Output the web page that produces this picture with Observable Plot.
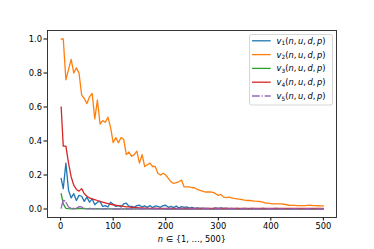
<!DOCTYPE html>
<html>
<head>
<meta charset="utf-8">
<script src="https://cdn.jsdelivr.net/npm/d3@7"></script>
<script src="https://cdn.jsdelivr.net/npm/@observablehq/plot@0.6"></script>
<style>
  html, body { margin: 0; padding: 0; background: #fff; }
  #chart { width: 374px; height: 249px; }
</style>
</head>
<body>
<div id="chart"></div>
<script>
// x positions (n) shared by all series
const nValues = [1, 5, 10, 15, 20, 25, 30, 35, 40, 45, 50, 55, 60, 65, 70, 75, 80, 85, 90, 95,
  100, 105, 110, 115, 120, 125, 130, 135, 140, 145, 150, 155, 160, 165, 170, 175, 180, 185, 190, 195,
  200, 205, 210, 215, 220, 225, 230, 235, 240, 245, 250, 255, 260, 265, 270, 275, 280, 285, 290, 295,
  300, 305, 310, 315, 320, 325, 330, 335, 340, 345, 350, 355, 360, 365, 370, 375, 380, 385, 390, 395,
  400, 405, 410, 415, 420, 425, 430, 435, 440, 445, 450, 455, 460, 465, 470, 475, 480, 485, 490, 495, 500];

const v1 = [0.18, 0.12, 0.27, 0.11, 0.065, 0.09, 0.05, 0.08, 0.075, 0.045, 0.07, 0.04, 0.06, 0.025, 0.04, 0.045, 0.015, 0.02, 0.012, 0.04,
  0.028, 0.015, 0.02, 0.012, 0.03, 0.035, 0.015, 0.016, 0.01, 0.02, 0.022, 0.012, 0.018, 0.01, 0.02, 0.008, 0.018, 0.016, 0.01, 0.02,
  0.022, 0.01, 0.015, 0.008, 0.018, 0.006, 0.014, 0.01, 0.012, 0.005, 0.01, 0.004, 0.006, 0.003, 0.005, 0.003, 0.004, 0.002, 0.003, 0.006,
  0.004, 0.007, 0.003, 0.005, 0.002, 0.003, 0.002, 0.003, 0.002, 0.002, 0.003, 0.002, 0.002, 0.003, 0.002, 0.002, 0.002, 0.003, 0.002, 0.002,
  0.002, 0.002, 0.003, 0.002, 0.002, 0.002, 0.002, 0.002, 0.002, 0.002, 0.002, 0.002, 0.002, 0.002, 0.002, 0.002, 0.002, 0.002, 0.002, 0.002, 0.002];

const v2 = [1.00, 1.00, 0.76, 0.82, 0.88, 0.80, 0.83, 0.80, 0.67, 0.65, 0.62, 0.66, 0.68, 0.53, 0.64, 0.50, 0.52, 0.51, 0.54, 0.48,
  0.39, 0.42, 0.39, 0.42, 0.41, 0.32, 0.335, 0.31, 0.32, 0.34, 0.27, 0.32, 0.25, 0.26, 0.27, 0.25, 0.25, 0.21, 0.20, 0.21,
  0.20, 0.18, 0.16, 0.15, 0.155, 0.16, 0.17, 0.13, 0.13, 0.13, 0.125, 0.125, 0.115, 0.11, 0.105, 0.10, 0.10, 0.10, 0.098, 0.09,
  0.08, 0.086, 0.07, 0.067, 0.07, 0.065, 0.062, 0.06, 0.058, 0.055, 0.052, 0.05, 0.05, 0.048, 0.046, 0.045, 0.044, 0.04, 0.035, 0.034,
  0.032, 0.03, 0.03, 0.03, 0.03, 0.028, 0.025, 0.022, 0.021, 0.021, 0.02, 0.02, 0.02, 0.02, 0.021, 0.022, 0.02, 0.02, 0.019, 0.018, 0.018];

const v3 = [0.09, 0.03, 0.004, 0.002, 0.001, 0.003, 0.001, 0.004, 0.002, 0.003, 0.001, 0.003, 0.002, 0.001, 0.002, 0.001, 0.001, 0.002, 0.001, 0.001,
  0.001, 0.001, 0.001, 0.001, 0.001, 0.001, 0.001, 0.001, 0.001, 0.001, 0.001, 0.001, 0.001, 0.001, 0.001, 0.001, 0.001, 0.001, 0.001, 0.001,
  0, 0, 0, 0, 0, 0, 0, 0, 0, 0, 0, 0, 0, 0, 0, 0, 0, 0, 0, 0,
  0, 0, 0, 0, 0, 0, 0, 0, 0, 0, 0, 0, 0, 0, 0, 0, 0, 0, 0, 0,
  0, 0, 0, 0, 0, 0, 0, 0, 0, 0, 0, 0, 0, 0, 0, 0, 0, 0, 0, 0, 0];

const v4 = [0.60, 0.37, 0.37, 0.27, 0.19, 0.14, 0.115, 0.105, 0.12, 0.09, 0.075, 0.065, 0.06, 0.055, 0.05, 0.045, 0.04, 0.036, 0.032, 0.028,
  0.025, 0.022, 0.02, 0.018, 0.015, 0.013, 0.012, 0.01, 0.009, 0.008, 0.007, 0.006, 0.005, 0.005, 0.004, 0.004, 0.005, 0.003, 0.004, 0.003,
  0.004, 0.003, 0.004, 0.003, 0.003, 0.004, 0.003, 0.003, 0.004, 0.003, 0.003, 0.003, 0.004, 0.003, 0.003, 0.003, 0.004, 0.003, 0.003, 0.003,
  0.003, 0.003, 0.004, 0.003, 0.003, 0.003, 0.003, 0.004, 0.003, 0.003, 0.003, 0.003, 0.003, 0.004, 0.003, 0.003, 0.003, 0.003, 0.004, 0.003,
  0.003, 0.003, 0.003, 0.003, 0.004, 0.003, 0.003, 0.003, 0.003, 0.003, 0.004, 0.003, 0.003, 0.003, 0.003, 0.003, 0.004, 0.003, 0.003, 0.003, 0.003];

const v5 = [0.005, 0.055, 0.04, 0.012, 0.004, 0.002, 0.004, 0.014, 0.012, 0.002, 0.001, 0.001, 0.001, 0.001, 0.001, 0.001, 0.001, 0.001, 0.001, 0.001,
  0, 0, 0, 0, 0, 0, 0, 0, 0, 0, 0, 0, 0, 0, 0, 0, 0, 0, 0, 0,
  0, 0, 0, 0, 0, 0, 0, 0, 0, 0, 0, 0, 0, 0, 0, 0, 0, 0, 0, 0,
  0, 0, 0, 0, 0, 0, 0, 0, 0, 0, 0, 0, 0, 0, 0, 0, 0, 0, 0, 0,
  0, 0, 0, 0, 0, 0, 0, 0, 0, 0, 0, 0, 0, 0, 0, 0, 0, 0, 0, 0, 0];

const seriesNames = ["v1", "v2", "v3", "v4", "v5"];
const seriesSubs = ["1", "2", "3", "4", "5"];
const seriesColors = ["#1f77b4", "#ff7f0e", "#2ca02c", "#d62728", "#9467bd"];
const xTicks = [0, 100, 200, 300, 400, 500];
const yTicks = [0.0, 0.2, 0.4, 0.6, 0.8, 1.0];

const seriesValues = [v1, v2, v3, v4, v5];
const rowsFor = (k) => nValues.map((n, i) => ({n, v: seriesValues[k][i], s: seriesNames[k]}));

const dashDot = "7.7,1.9,1.2,1.9";
const lw = 1.3;

const chart = Plot.plot({
  width: 374,
  height: 249,
  marginLeft: 47,
  marginRight: 38,
  marginTop: 30,
  marginBottom: 32,
  style: {fontFamily: "DejaVu Sans", fontSize: "8.3px", background: "#fff", color: "#000"},
  x: {domain: [-25, 525]},
  y: {domain: [-0.05, 1.05]},
  color: {domain: seriesNames, range: seriesColors},
  marks: [
    Plot.axisX({ticks: xTicks, tickSize: 3.5, tickPadding: 2.5, tickFormat: d => String(d),
      label: "n ∈ {1, …, 500}", labelAnchor: "center", labelArrow: "none", labelOffset: 24}),
    Plot.axisY({ticks: yTicks, tickSize: 3.5, tickPadding: 2, tickFormat: d3.format(".1f"), label: null}),
    Plot.line(rowsFor(0), {x: "n", y: "v", stroke: "s", strokeWidth: lw}),
    Plot.line(rowsFor(1), {x: "n", y: "v", stroke: "s", strokeWidth: lw}),
    Plot.line(rowsFor(2), {x: "n", y: "v", stroke: "s", strokeWidth: lw}),
    Plot.line(rowsFor(3), {x: "n", y: "v", stroke: "s", strokeWidth: lw}),
    Plot.line(rowsFor(4), {x: "n", y: "v", stroke: "s", strokeWidth: lw, strokeDasharray: dashDot}),
    Plot.frame({stroke: "#222", strokeWidth: 0.9})
  ]
});
document.getElementById("chart").appendChild(chart);

// italic math-style x label
const svg = d3.select(chart);
const lab = svg.select('g[aria-label="x-axis label"] text');
if (!lab.empty()) {
  lab.text(null);
  lab.append("tspan").attr("font-style", "italic").text("n");
  lab.append("tspan").text(" ∈ {1, …, 500}");
}

// legend in the upper right of the axes
const lg = svg.append("g").attr("transform", "translate(249.5,34.5)").attr("text-anchor", "start");
lg.append("rect").attr("width", 83).attr("height", 70.5).attr("rx", 2)
  .attr("fill", "#fff").attr("fill-opacity", 0.8).attr("stroke", "#ccc").attr("stroke-width", 0.8);
seriesNames.forEach((s, i) => {
  const y = 6.3 + i * 13.8;
  lg.append("line").attr("x1", 2.5).attr("x2", 21.2).attr("y1", y).attr("y2", y)
    .attr("stroke", seriesColors[i]).attr("stroke-width", lw)
    .attr("stroke-dasharray", i === 4 ? dashDot : null);
  const t = lg.append("text").attr("x", 27).attr("y", y + 3).attr("text-anchor", "start")
    .attr("font-family", "DejaVu Sans").attr("font-size", "8.3px").attr("fill", "#000");
  t.append("tspan").attr("font-style", "italic").text("v");
  t.append("tspan").attr("font-size", "5.8px").attr("dy", 1.6).text(seriesSubs[i]);
  t.append("tspan").attr("dy", -1.6).text("(");
  t.append("tspan").attr("font-style", "italic").text("n");
  t.append("tspan").text(",\u2009");
  t.append("tspan").attr("font-style", "italic").text("u");
  t.append("tspan").text(",\u2009");
  t.append("tspan").attr("font-style", "italic").text("d");
  t.append("tspan").text(",\u2009");
  t.append("tspan").attr("font-style", "italic").text("p");
  t.append("tspan").text(")");
});
</script>
</body>
</html>
